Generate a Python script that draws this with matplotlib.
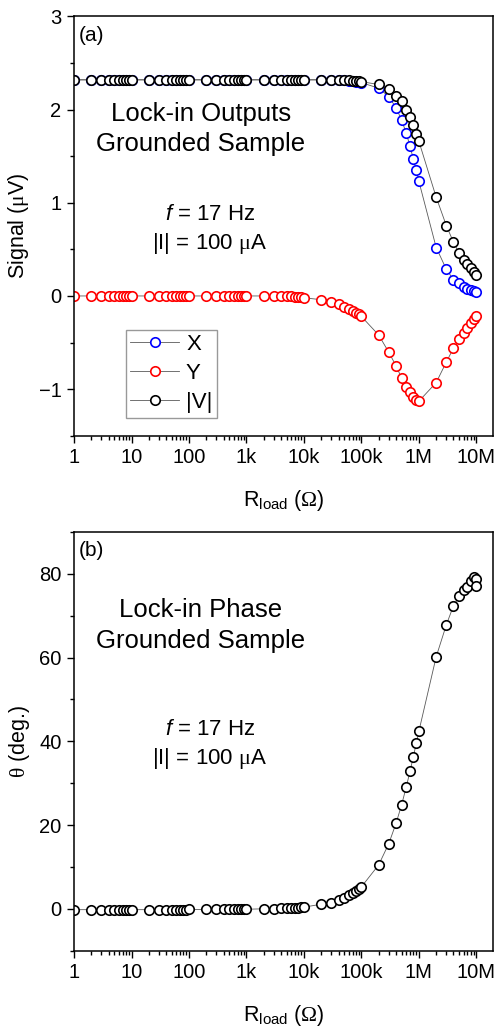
import matplotlib.pyplot as plt
from matplotlib.ticker import LogLocator, NullFormatter, MultipleLocator

plt.rcParams['font.family'] = ['Liberation Sans', 'DejaVu Sans']
plt.rcParams['mathtext.fontset'] = 'custom'
plt.rcParams['mathtext.rm'] = 'Liberation Serif'
plt.rcParams['mathtext.it'] = 'Liberation Sans:italic'
plt.rcParams['mathtext.sf'] = 'Liberation Sans'

# load resistance sweep (ohm)
r_load = [1, 2, 3, 4, 5, 6, 7, 8, 9,
          10, 20, 30, 40, 50, 60, 70, 80, 90,
          100, 200, 300, 400, 500, 600, 700, 800, 900,
          1e3, 2e3, 3e3, 4e3, 5e3, 6e3, 7e3, 8e3, 9e3,
          1e4, 2e4, 3e4, 4e4, 5e4, 6e4, 7e4, 8e4, 9e4,
          1e5, 2e5, 3e5, 4e5, 5e5, 6e5, 7e5, 8e5, 9e5,
          1e6, 2e6, 3e6, 4e6, 5e6, 6e6, 7e6, 8e6, 9e6,
          1e7]

# lock-in outputs (uV)
sig_x = [2.32, 2.32, 2.32, 2.32, 2.32, 2.32, 2.32, 2.32, 2.32,
         2.32, 2.32, 2.32, 2.32, 2.32, 2.32, 2.32, 2.32, 2.32,
         2.32, 2.32, 2.32, 2.32, 2.32, 2.32, 2.32, 2.32, 2.32,
         2.32, 2.32, 2.32, 2.32, 2.32, 2.32, 2.32, 2.32, 2.32,
         2.32, 2.32, 2.32, 2.315, 2.315, 2.31, 2.305, 2.30, 2.295,
         2.29, 2.23, 2.14, 2.02, 1.89, 1.75, 1.61, 1.47, 1.35,
         1.23, 0.52, 0.287, 0.175, 0.135, 0.10, 0.077, 0.06, 0.048,
         0.04]
sig_y = [0, 0, 0, 0, 0, 0, 0, 0, 0,
         0, 0, 0, 0, 0, 0, 0, 0, 0,
         0, 0, 0, 0, 0, 0, 0, 0, 0,
         0, 0, 0, 0, -0.005, -0.005, -0.01, -0.01, -0.01,
         -0.02, -0.04, -0.06, -0.09, -0.115, -0.135, -0.16, -0.18, -0.195,
         -0.22, -0.42, -0.605, -0.75, -0.88, -0.975, -1.035, -1.09, -1.12,
         -1.13, -0.93, -0.71, -0.56, -0.465, -0.395, -0.34, -0.295, -0.25,
         -0.22]
sig_v = [2.32, 2.32, 2.32, 2.32, 2.32, 2.32, 2.32, 2.32, 2.32,
         2.32, 2.32, 2.32, 2.32, 2.32, 2.32, 2.32, 2.32, 2.32,
         2.32, 2.32, 2.32, 2.32, 2.32, 2.32, 2.32, 2.32, 2.32,
         2.32, 2.32, 2.32, 2.32, 2.32, 2.32, 2.32, 2.32, 2.32,
         2.32, 2.32, 2.32, 2.32, 2.32, 2.315, 2.31, 2.31, 2.305,
         2.30, 2.27, 2.22, 2.15, 2.09, 2.00, 1.92, 1.83, 1.74,
         1.66, 1.06, 0.756, 0.577, 0.46, 0.39, 0.34, 0.30, 0.255,
         0.22]

# lock-in phase (deg); last resistance measured twice
r_phase = r_load + [1e7]
theta = [-0.2, -0.2, -0.2, -0.2, -0.2, -0.2, -0.2, -0.2, -0.2,
         -0.2, -0.2, -0.2, -0.2, -0.2, -0.2, -0.2, -0.2, -0.2,
         -0.15, -0.15, -0.15, -0.15, -0.15, -0.15, -0.15, -0.15, -0.15,
         -0.1, 0, 0.05, 0.1, 0.15, 0.2, 0.25, 0.3, 0.35,
         0.4, 1.1, 1.5, 2.1, 2.6, 3.2, 3.7, 4.2, 4.7,
         5.25, 10.5, 15.6, 20.4, 24.8, 29.0, 32.8, 36.3, 39.5,
         42.4, 60.2, 67.8, 72.4, 74.6, 76.2, 76.8, 78.2, 79.2,
         78.7, 77.1]

xtick_vals = [1, 10, 100, 1e3, 1e4, 1e5, 1e6, 1e7]
xtick_labels = ['1', '10', '100', '1k', '10k', '100k', '1M', '10M']

line_kw = dict(color='0.35', lw=0.6, marker='o', ms=6.8, mew=1.2, mfc='white')


def style_axis(ax):
    ax.set_xscale('log')
    ax.set_xlim(1, 1.95e7)
    ax.set_xticks(xtick_vals)
    ax.set_xticklabels(xtick_labels)
    ax.xaxis.set_minor_locator(LogLocator(base=10, subs=range(2, 10), numticks=20))
    ax.xaxis.set_minor_formatter(NullFormatter())
    ax.tick_params(which='both', direction='out', top=False, right=False,
                   labelsize=14.5, width=1.0)
    ax.tick_params(which='major', length=5, pad=4)
    ax.tick_params(which='minor', length=3)
    for s in ax.spines.values():
        s.set_linewidth(1.1)
    ax.set_xlabel(r'R$_{\mathsf{load}}$ ($\mathrm{\Omega}$)', fontsize=15.5, labelpad=15)


fig = plt.figure(figsize=(4.97, 10.30), dpi=100)

# (a) X, Y and |V|
ax1 = fig.add_axes([0.149, 0.577, 0.843, 0.407])
ax1.plot(r_load, sig_x, mec='#0000ff', label='X', **line_kw)
ax1.plot(r_load, sig_y, mec='#ff0000', label='Y', **line_kw)
ax1.plot(r_load, sig_v, mec='black', label='|V|', **line_kw)
style_axis(ax1)
ax1.set_ylim(-1.5, 3)
ax1.yaxis.set_major_locator(MultipleLocator(1))
ax1.yaxis.set_minor_locator(MultipleLocator(0.5))
ax1.set_ylabel(r'Signal ($\mathrm{\mu}$V)', fontsize=15.5)
ax1.yaxis.set_label_coords(-0.102, 0.5)
ax1.text(0.012, 0.978, '(a)', transform=ax1.transAxes, fontsize=15, va='top')
ax1.text(0.302, 0.750, 'Lock-in Outputs', transform=ax1.transAxes,
         fontsize=18.5, ha='center', va='baseline')
ax1.text(0.302, 0.6785, 'Grounded Sample', transform=ax1.transAxes,
         fontsize=18.5, ha='center', va='baseline')
ax1.text(0.324, 0.514, r'$\mathit{f}$ = 17 Hz', transform=ax1.transAxes,
         fontsize=16, ha='center', va='baseline')
ax1.text(0.324, 0.446, r'|I| = 100 $\mathrm{\mu}$A', transform=ax1.transAxes,
         fontsize=16, ha='center', va='baseline')
leg = ax1.legend(loc='upper left', bbox_to_anchor=(0.124, 0.253), borderaxespad=0,
                 fontsize=16, fancybox=False, edgecolor='0.6', framealpha=1,
                 handlelength=2.2, handletextpad=0.3, labelspacing=0.36,
                 borderpad=0.2, numpoints=1)
leg.get_frame().set_linewidth(1.0)

# (b) phase
ax2 = fig.add_axes([0.149, 0.077, 0.843, 0.4065])
ax2.plot(r_phase, theta, mec='black', **line_kw)
style_axis(ax2)
ax2.set_ylim(-10, 90)
ax2.yaxis.set_major_locator(MultipleLocator(20))
ax2.yaxis.set_minor_locator(MultipleLocator(10))
ax2.set_ylabel(r'$\mathrm{\theta}$ (deg.)', fontsize=15.5)
ax2.yaxis.set_label_coords(-0.100, 0.5)
ax2.text(0.012, 0.978, '(b)', transform=ax2.transAxes, fontsize=15, va='top')
ax2.text(0.302, 0.796, 'Lock-in Phase', transform=ax2.transAxes,
         fontsize=18.5, ha='center', va='baseline')
ax2.text(0.302, 0.722, 'Grounded Sample', transform=ax2.transAxes,
         fontsize=18.5, ha='center', va='baseline')
ax2.text(0.324, 0.515, r'$\mathit{f}$ = 17 Hz', transform=ax2.transAxes,
         fontsize=16, ha='center', va='baseline')
ax2.text(0.324, 0.446, r'|I| = 100 $\mathrm{\mu}$A', transform=ax2.transAxes,
         fontsize=16, ha='center', va='baseline')

fig.savefig('out.png', dpi=100)
